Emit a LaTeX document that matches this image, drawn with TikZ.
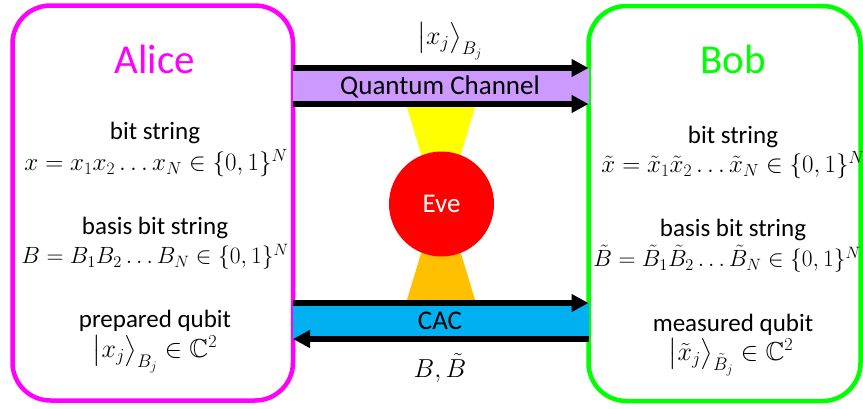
\documentclass[tikz,border=0pt]{standalone}
\usepackage{fix-cm}
\usepackage{amsmath,amssymb}
\usepackage{fontspec}
\setmainfont{Carlito}
\usetikzlibrary{arrows.meta}
\definecolor{amag}{RGB}{255,0,255}
\definecolor{bgreen}{RGB}{0,255,0}
\definecolor{qpurple}{RGB}{204,153,255}
\definecolor{ccyan}{RGB}{0,176,240}
\definecolor{eyellow}{RGB}{255,255,0}
\definecolor{eorange}{RGB}{255,192,0}
\definecolor{ered}{RGB}{255,0,0}
\begin{document}
\begin{tikzpicture}[x=1pt,y=-1pt,
  party/.style={draw, rounded corners=38pt, line width=4.5pt, outer sep=0pt, minimum height=395pt, inner sep=0pt},
  pname/.style={font=\fontsize{41}{48}\selectfont, inner sep=0pt},
  lbl/.style={font=\fontsize{25}{30}\selectfont, inner sep=0pt},
  lbls/.style={font=\fontsize{23.5}{28}\selectfont, inner sep=0pt},
  ketl/.style={font=\fontsize{26}{31}\selectfont, inner sep=0pt},
  chan/.style={font=\fontsize{27}{32}\selectfont, inner sep=0pt},
  arr/.style={line width=6pt, -{Triangle[length=17pt,width=17pt]}}
]
\useasboundingbox (0,0) rectangle (863,408);
% Eve beams
\fill[eyellow] (406,104) -- (476,104) -- (446,204) -- (436,204) -- cycle;
\fill[eorange] (406,303) -- (476,303) -- (446,204) -- (436,204) -- cycle;
% parties
\node[party, draw=amag, minimum width=280.5pt] (alice) at (152.75,203) {};
\node[party, draw=bgreen, minimum width=272pt] (bob) at (724.5,203.5) {};
% levels
\coordinate (q1) at (0,68);
\coordinate (q2) at (0,104);
\coordinate (c1) at (0,303);
\coordinate (c2) at (0,339);
% bands
\fill[qpurple] (alice.east |- q1) rectangle (bob.west |- q2);
\fill[ccyan] (alice.east |- c1) rectangle (bob.west |- c2);
% arrows
\draw[arr] (alice.east |- q1) -- (bob.west |- q1);
\draw[arr] (alice.east |- q2) -- (bob.west |- q2);
\draw[arr] (alice.east |- c1) -- (bob.west |- c1);
\draw[arr] (bob.west |- c2) -- (alice.east |- c2);
% Eve
\node[circle, fill=ered, minimum size=105pt, inner sep=0pt, text=white, font=\fontsize{27}{32}\selectfont] (eve) at (441.5,204) {Eve};
% channel labels
\node[chan] (qc) at (440,87) {Quantum Channel};
\node[chan] (cac) at (440,321) {CAC};
\node[ketl] (ket) at (450,41) {$\bigl|x_j\bigr\rangle_{B_j}$};
\node[ketl] (bb) at (440,368) {$B,\tilde{B}$};
% Alice texts
\node[pname, text=amag] (an) at (155,59) {Alice};
\node[lbl] (a1) at (155,133) {bit string};
\node[lbl] (a2) at (156,163) {$x=x_1x_2\ldots x_N\in\{0,1\}^N$};
\node[lbl] (a3) at (155,228) {basis bit string};
\node[lbls] (a4) at (155,257) {$B=B_1B_2\ldots B_N\in\{0,1\}^N$};
\node[lbl] (a5) at (155,321) {prepared qubit};
\node[ketl] (a6) at (155,354) {$\bigl|x_j\bigr\rangle_{B_j}\in\mathbb{C}^2$};
% Bob texts
\node[pname, text=bgreen] (bn) at (733,59) {Bob};
\node[lbl] (b1) at (733,137) {bit string};
\node[lbl] (b2) at (733,165) {$\tilde{x}=\tilde{x}_1\tilde{x}_2\ldots\tilde{x}_N\in\{0,1\}^N$};
\node[lbl] (b3) at (733,230) {basis bit string};
\node[lbls] (b4) at (727,259) {$\tilde{B}=\tilde{B}_1\tilde{B}_2\ldots\tilde{B}_N\in\{0,1\}^N$};
\node[lbl] (b5) at (733,325) {measured qubit};
\node[ketl] (b6) at (731,357) {$\bigl|\tilde{x}_j\bigr\rangle_{\tilde{B}_j}\in\mathbb{C}^2$};
\end{tikzpicture}
\end{document}
